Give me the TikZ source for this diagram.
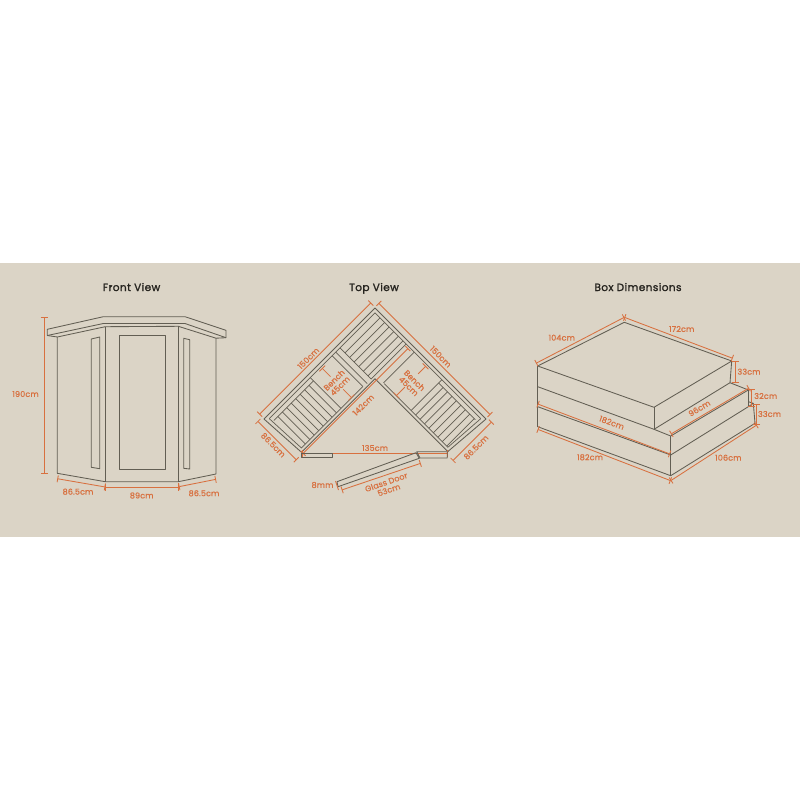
\documentclass[tikz,border=0pt]{standalone}
\usepackage{fontspec}
\setmainfont{Poppins}
\newfontfamily\labfont{Poppins}[FakeBold=0.6,LetterSpace=2]
\newfontfamily\headfont{Poppins}[FakeBold=1.4,LetterSpace=4]
\usetikzlibrary{arrows.meta}
\definecolor{bandc}{HTML}{DBD4C6}
\definecolor{orangec}{HTML}{D8703F}
\definecolor{linec}{HTML}{625E53}
\definecolor{titlec}{HTML}{26241F}
\tikzset{
  wall/.style={draw=linec,line width=.85pt,line join=round},
  thin wall/.style={draw=linec,line width=.7pt},
  dimline/.style={draw=orangec,line width=.85pt,{Bar[width=7pt,line width=.85pt]}-{Bar[width=7pt,line width=.85pt]}},
  dimhalf/.style={draw=orangec,line width=.85pt,{Bar[width=8pt,line width=.85pt]}-},
  dimplain/.style={draw=orangec,line width=.85pt},
  lab/.style={text=orangec,font=\labfont\fontsize{8}{8.2}\selectfont,inner sep=0pt,align=center},
  headline/.style={text=titlec,font=\headfont\fontsize{10.5}{12}\selectfont,inner sep=0pt,anchor=base},
}
\begin{document}
\begin{tikzpicture}[x=1pt,y=-1pt]
\useasboundingbox (0,0) rectangle (800,800);
\fill[white] (0,0) rectangle (800,800);
\fill[bandc] (0,263) rectangle (800,537);

% ---- titles
\node[headline] (t1) at (131.5,291) {Front View};
\node[headline] (t2) at (374,291) {Top View};
\node[headline] (t3) at (638,291) {Box Dimensions};

% ---- front view
\draw[wall] (47.3,329.3) -- (103.3,316.7) -- (185,316.7) -- (226,330.3) -- (226,337.7) -- (216,338.2) -- (178.3,326.3) -- (105.3,326.7) -- (57.3,337) -- (47.3,335.5) -- cycle;
\draw[wall] (47.3,335.5) -- (103.3,323.5) -- (185,323.5) -- (226,337.7);
\draw[wall] (57.3,337) -- (57.3,473.3) -- (105.3,481.7) -- (178.3,481.7) -- (216,474) -- (216,338.2);
\draw[wall] (105.3,326.7) -- (105.3,481.7);
\draw[wall] (178.3,326.3) -- (178.3,481.7);
\draw[wall] (119.3,335.7) rectangle (165.3,469.3);
\draw[wall] (91.3,339) -- (99.7,337) -- (99.7,468.7) -- (91.3,467.3) -- cycle;
\draw[wall] (183.7,338.3) -- (189.7,339.7) -- (189.7,469) -- (183.7,468.3) -- cycle;
\draw[dimline] (44,316.7) -- (44,474);
\draw[dimline] (57.3,478.7) -- (105.3,487);
\draw[dimline] (105.3,487.3) -- (178.8,487.3);
\draw[dimline] (178.8,486.7) -- (216,479.3);
\node[lab] (f1) at (25.5,394) {190cm};
\node[lab] (f2) at (78,491.7) {86.5cm};
\node[lab] (f3) at (141.7,495.5) {89cm};
\node[lab] (f4) at (204,493.3) {86.5cm};

% ---- top view
\begin{scope}[shift={(375,308)},x={(.7071pt,-.7071pt)},y={(-.7071pt,-.7071pt)}]
  % walls
  \draw[wall] (153,50) -- (157,0) -- (0,0) -- (0,157) -- (50,154) -- (50,50) -- cycle;
  \draw[thin wall] (153,3.5) -- (3.5,3.5) -- (3.5,153);
  \draw[thin wall] (47,64) -- (47,151) -- (3.5,153);
  \draw[thin wall] (60,47) -- (150,47) -- (153,3.5);
  % top slats
  \draw[thin wall] (47.5,3.5) -- (47.5,53) -- (3.5,53);
  \draw[thin wall] (3.5,59) -- (48,59);
  \draw[thin wall] (3.5,64) -- (47,64);
  \foreach \u in {10.5,17,23.5,30,36.5,43}
    \draw[thin wall] (\u,3.5) -- (\u,53);
  % right arm
  \draw[thin wall] (59,3.5) -- (59,47);
  \draw[thin wall] (98,3.5) -- (98,47);
  \foreach \u in {104.3,110.6,116.9,123.2,129.5,135.8,142.1,148.4}
    \draw[thin wall] (\u,8) -- (\u,47);
  \draw[thin wall] (98,8) -- (150,8);
  % left arm
  \draw[thin wall] (3.5,95) -- (47,95);
  \foreach \v in {101.3,107.6,113.9,120.2,126.5,132.8,139.1,145.4}
    \draw[thin wall] (8,\v) -- (47,\v);
  \draw[thin wall] (8,95) -- (8,151);
  % outer dimensions
  \draw[dimline] (-6.5,-1) -- (-6.5,157);
  \draw[dimline] (-1,-6) -- (157,-6);
  \draw[dimline] (-3,163) -- (52,163);
  \draw[dimline] (163,-2) -- (163,53);
  \draw[dimline] (52,5) -- (52,154);
  % bench dimensions
  \draw[dimhalf] (5,80) -- (17,80);
  \draw[dimhalf] (47,80) -- (35,80);
  \draw[dimhalf] (77,5) -- (77,16);
  \draw[dimhalf] (77,47) -- (77,35);
\end{scope}
\draw[dimline] (301.7,453.3) -- (448,453.3);
\draw[wall] (301.7,453.7) rectangle (332.3,457.7);
\draw[wall] (416.7,451.7) -- (447.3,451.7) -- (447.3,458) -- (420,458) -- cycle;
\draw[wall] (337,481.7) -- (416,452.7) -- (419.3,458.3) -- (338,486.7) -- cycle;
\draw[dimline] (341.7,490) -- (420.7,463.3);
\draw[dimplain] (335.5,481) -- (338.5,490);
\node[lab,rotate=45] (o1) at (308.3,358.3) {150cm};
\node[lab,rotate=-45] (o2) at (440.7,356.7) {150cm};
\node[lab,rotate=45] (o3) at (363.3,405) {142cm};
\node[lab,rotate=-45] (o4) at (273.3,445) {86.5cm};
\node[lab,rotate=45] (o5) at (476,447.3) {86.5cm};
\node[lab,rotate=45] (o6) at (337,383) {Bench\\45cm};
\node[lab,rotate=-45] (o7) at (411.7,383.3) {Bench\\45cm};
\node[lab] (o8) at (375,448) {135cm};
\node[lab] (o9) at (322.5,485) {8mm};
\node[lab,rotate=19] (o10) at (387.5,486) {Glass Door\\53cm};

% ---- box dimensions
\draw[wall] (537.7,366) -- (624.3,322.3) -- (731.7,361) -- (654,407.3) -- cycle;
\draw[wall] (654,407.3) -- (654,429.3);
\draw[wall] (731.7,361) -- (730,382.7) -- (654,429.3);
\draw[wall] (537.7,366) -- (537.7,426.7);
\draw[wall] (537.7,386.7) -- (654,429.3) -- (670.7,436) -- (748.3,390) -- (730,382.7);
\draw[wall] (748.3,390) -- (748.3,406.7);
\draw[wall] (537.7,406.7) -- (670.7,455) -- (748.3,406.7) -- (753.3,403.3) -- (748.3,401.7);
\draw[wall] (753.3,403.3) -- (755,423.3) -- (670.7,475.7) -- (537.7,426.7);
\draw[wall] (670.7,436) -- (670.7,475.7);
\draw[dimline] (536,363.3) -- (624.3,317.3);
\draw[dimline] (624.3,317.3) -- (732.7,358.3);
\draw[dimline] (735,361) -- (735,382.7);
\draw[dimline] (751,389) -- (751,407);
\draw[dimline] (756.7,404) -- (756.7,425);
\draw[dimline] (537.7,404) -- (670,454);
\draw[dimline] (537.7,429.3) -- (670.7,480.7);
\draw[dimline] (671,434) -- (749,388);
\draw[dimline] (670.7,480.7) -- (756.7,425);
\node[lab] (b1) at (561.7,337.7) {104cm};
\node[lab] (b2) at (681.7,329) {172cm};
\node[lab] (b3) at (749,371.7) {33cm};
\node[lab] (b4) at (765.7,396) {32cm};
\node[lab] (b5) at (769.5,414) {33cm};
\node[lab,rotate=-20] (b6) at (611.7,422.7) {182cm};
\node[lab] (b7) at (590,457.3) {182cm};
\node[lab,rotate=31] (b8) at (699.3,408.3) {96cm};
\node[lab] (b9) at (728.3,457.7) {106cm};
\end{tikzpicture}
\end{document}
